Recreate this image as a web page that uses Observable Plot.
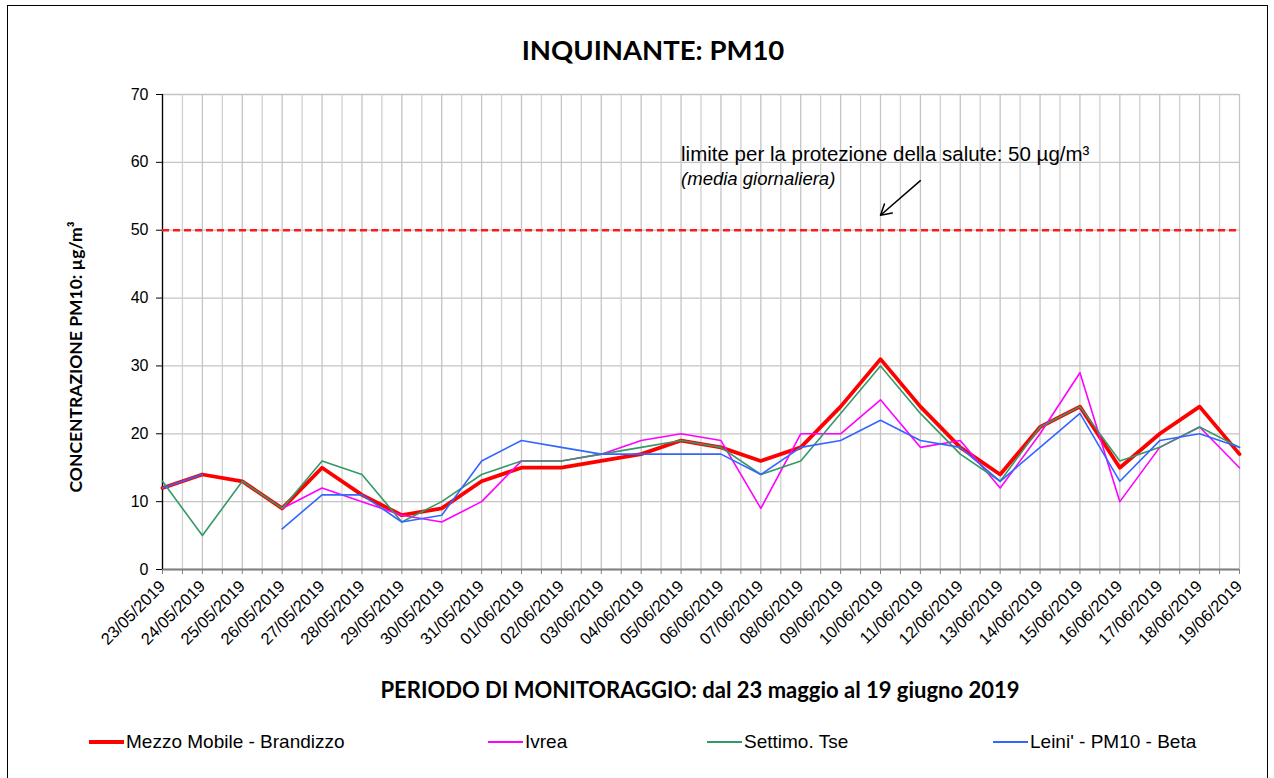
<!DOCTYPE html>
<html>
<head>
<meta charset="utf-8">
<script src="https://cdn.jsdelivr.net/npm/d3@7"></script>
<script src="https://cdn.jsdelivr.net/npm/@observablehq/plot@0.6"></script>
<style>
  html, body { margin: 0; padding: 0; background: #fff; }
  #page { position: relative; width: 1274px; height: 778px; overflow: hidden; font-family: "Liberation Sans", Arial, sans-serif; }
  #frame { position: absolute; left: 7px; top: 5px; width: 1261px; height: 820px; border: 1.5px solid #000; box-sizing: border-box; }
  #title { position: absolute; left: 0; width: 1306px; top: 32px; text-align: center; font-family: Lato, "Open Sans", sans-serif; font-weight: 700; font-size: 27.5px; line-height: 36px; color: #000; }
  #ytitle { position: absolute; left: 75px; top: 357px; transform: translate(-50%, -50%) rotate(-90deg); white-space: nowrap; font-family: Lato, "Open Sans", sans-serif; font-weight: 700; font-size: 17.5px; color: #000; }
  #xtitle { position: absolute; left: 0; width: 1400px; top: 676px; text-align: center; font-family: Lato, "Open Sans", sans-serif; font-weight: 700; font-size: 22px; line-height: 28px; color: #000; }
  #chart { position: absolute; left: 0; top: 0; }
  .leg { position: absolute; top: 731px; height: 22px; display: flex; align-items: center; font-size: 19px; color: #000; white-space: nowrap; }
  .leg .sw { display: inline-block; width: 35px; margin-right: 2px; }
</style>
</head>
<body>
<div id="page">
  <div id="frame"></div>
  <div id="chart"></div>
  <div id="title">INQUINANTE: PM10</div>
  <div id="ytitle">CONCENTRAZIONE PM10: µg/m³</div>
  <div id="xtitle">PERIODO DI MONITORAGGIO: dal 23 maggio al 19 giugno 2019</div>
  <div id="legend"></div>
</div>
<script>
// ---- data ----
const dates = [
  "23/05/2019","24/05/2019","25/05/2019","26/05/2019","27/05/2019","28/05/2019","29/05/2019",
  "30/05/2019","31/05/2019","01/06/2019","02/06/2019","03/06/2019","04/06/2019","05/06/2019",
  "06/06/2019","07/06/2019","08/06/2019","09/06/2019","10/06/2019","11/06/2019","12/06/2019",
  "13/06/2019","14/06/2019","15/06/2019","16/06/2019","17/06/2019","18/06/2019","19/06/2019"
];
const brandizzo = [12,14,13,9,15,11,8,9,13,15,15,16,17,19,18,16,18,24,31,24,18,14,21,24,15,20,24,17];
const ivrea     = [null,null,null,9,12,10,8,7,10,16,16,17,19,20,19,9,20,20,25,18,19,12,20,29,10,18,21,15];
const settimo   = [13,5,13,9,16,14,7,10,14,16,16,17,18,19,18,14,16,23,30,23,17,13,21,24,16,18,21,18];
const leini     = [12,14,null,6,11,11,7,8,16,19,18,17,17,17,17,14,18,19,22,19,18,13,18,23,13,19,20,18];
const seriesNames = ["Mezzo Mobile - Brandizzo", "Ivrea", "Settimo. Tse", "Leini' - PM10 - Beta"];
const seriesColors = ["#ff0000", "#ff00ff", "#339966", "#3366ff"];
const seriesWidths = [3.8, 1.6, 1.6, 1.6];
const yTicks = [0, 10, 20, 30, 40, 50, 60, 70];
const limitValue = 50;
const noteLines = ["limite per la protezione della salute: 50 µg/m³", "(media giornaliera)"];
const noteAnchor = {x: "05/06/2019", y: [61.2, 57.5]};
const arrowPts = {x1: "11/06/2019", y1: 57.3, x2: "10/06/2019", y2: 52.2};

// ---- table ----
const allSeries = [brandizzo, ivrea, settimo, leini];
const rows = [];
allSeries.forEach((vals, si) => vals.forEach((v, i) => rows.push({date: dates[i], value: v, series: seriesNames[si]})));

// ---- layout ----
const W = 1274, H = 670, mL = 162, mR = 35, mT = 94, mB = 101;
const halfStep = (W - mL - mR) / (dates.length - 1) / 2;
const font = '"Liberation Sans", Arial, sans-serif';

const marks = [
  Plot.gridY(yTicks, {stroke: "#c4c4c4", strokeOpacity: 1, strokeWidth: 1.3}),
  Plot.ruleX(dates, {stroke: "#c4c4c4", strokeWidth: 1.3}),
  Plot.ruleX(dates.slice(0, -1), {stroke: "#d0d0d0", strokeWidth: 1.3, dx: halfStep}),
  Plot.axisX(dates, {tickSize: 5, stroke: "#808080", tickFormat: () => "", strokeWidth: 1}),
  Plot.axisX(dates.slice(0, -1), {tickSize: 5, stroke: "#808080", tickFormat: () => "", strokeWidth: 1, dx: halfStep}),
  Plot.ruleY([0], {stroke: "#808080", strokeWidth: 2}),
  Plot.ruleX([dates[0]], {stroke: "#000", strokeWidth: 1.3}),
  Plot.axisY(yTicks, {tickSize: 6, tickPadding: 8, fontSize: 16, fontFamily: font, stroke: "#000", fill: "#000"}),
  Plot.axisX(dates, {tickSize: 0, tickPadding: 14, tickRotate: -45, fontSize: 16.5, fontFamily: font, fill: "#000", dx: 0}),
  Plot.ruleY([limitValue], {stroke: "#ff1a1a", strokeWidth: 2.6, strokeDasharray: "7,4"}),
];
allSeries.forEach((vals, si) => {
  marks.push(Plot.line(rows.filter(r => r.series === seriesNames[si]), {
    x: "date", y: "value", stroke: seriesColors[si], strokeWidth: seriesWidths[si], curve: "linear"
  }));
});
marks.push(
  Plot.text([noteLines[0]], {x: () => noteAnchor.x, y: () => noteAnchor.y[0], text: d => d, textAnchor: "start", fontSize: 20.5, fontFamily: font, fill: "#000"}),
  Plot.text([noteLines[1]], {x: () => noteAnchor.x, y: () => noteAnchor.y[1], text: d => d, textAnchor: "start", fontSize: 18.5, fontStyle: "italic", fontFamily: font, fill: "#000"}),
  Plot.arrow([arrowPts], {x1: "x1", y1: "y1", x2: "x2", y2: "y2", stroke: "#000", strokeWidth: 1.5, headLength: 12, bend: 0})
);

const chart = Plot.plot({
  width: W, height: H,
  marginLeft: mL, marginRight: mR, marginTop: mT, marginBottom: mB,
  x: {type: "point", domain: dates, padding: 0, round: false, range: [mL, W - mR], axis: null},
  y: {domain: [0, 70], range: [H - mB, mT], axis: null},
  style: {fontFamily: font, fontSize: "15px", color: "#000", background: "transparent", overflow: "visible"},
  marks
});
document.getElementById("chart").appendChild(chart);

// ---- legend ----
const legX = [89, 488, 707, 993];
const legend = document.getElementById("legend");
seriesNames.forEach((name, i) => {
  const item = document.createElement("div");
  item.className = "leg";
  item.style.left = legX[i] + "px";
  const sw = document.createElement("span");
  sw.className = "sw";
  sw.style.height = (i === 0 ? 4 : 2) + "px";
  sw.style.background = seriesColors[i];
  item.appendChild(sw);
  item.appendChild(document.createTextNode(name));
  legend.appendChild(item);
});
</script>
</body>
</html>
